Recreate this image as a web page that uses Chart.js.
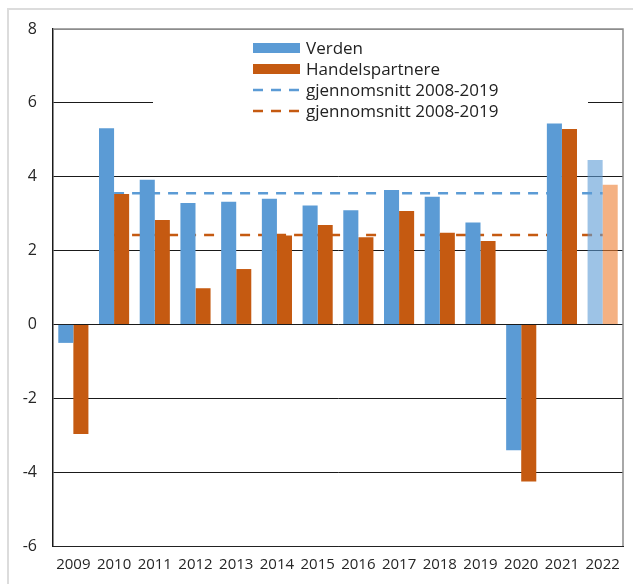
<!DOCTYPE html>
<html>
<head>
<meta charset="utf-8">
<script src="https://cdn.jsdelivr.net/npm/chart.js@4.4.1/dist/chart.umd.min.js"></script>
<style>
html, body { margin: 0; padding: 0; background: #fff; overflow: hidden; }
#wrap { position: relative; width: 633px; height: 584px; }
#frame { position: absolute; left: 7px; top: 8px; width: 700px; height: 700px; border: 2px solid #dcdcdc; pointer-events: none; }
</style>
</head>
<body>
<div id="wrap">
  <canvas id="chart" width="633" height="584"></canvas>
  <div id="frame"></div>
</div>
<script>
const years = ['2009', '2010', '2011', '2012', '2013', '2014', '2015', '2016', '2017', '2018', '2019', '2020', '2021', '2022'];
const verden = [-0.5, 5.31, 3.92, 3.29, 3.32, 3.40, 3.22, 3.09, 3.64, 3.46, 2.76, -3.41, 5.44, 4.45];
const handel = [-2.97, 3.53, 2.83, 0.98, 1.50, 2.41, 2.69, 2.36, 3.07, 2.48, 2.26, -4.25, 5.29, 3.78];
const avgVerden = 3.55;
const avgHandel = 2.42;
const yTicks = [-6, -4, -2, 0, 2, 4, 6, 8];

const BLUE = '#5B9BD5', ORANGE = '#C55A11';
const BLUE_LIGHT = 'rgba(91,155,213,0.6)', ORANGE_LIGHT = 'rgba(237,125,49,0.6)';
const FONT = '"Open Sans", "DejaVu Sans", sans-serif';

// last year is a forecast -> lighter bars
const colorsFor = (base, light) => years.map((y, i) => i === years.length - 1 ? light : base);
// average lines run from 2010 onward
const flatLine = v => years.map((y, i) => i === 0 ? null : v);

const legendItems = [
  { label: 'Verden', type: 'box', color: BLUE },
  { label: 'Handelspartnere', type: 'box', color: ORANGE },
  { label: 'gjennomsnitt 2008-2019', type: 'dash', color: BLUE },
  { label: 'gjennomsnitt 2008-2019', type: 'dash', color: ORANGE }
];

const boxLegend = {
  id: 'boxLegend',
  beforeDatasetsDraw(chart) {
    const { ctx, chartArea } = chart;
    const x0 = chartArea.left + 200, y0 = chartArea.top + 19;
    ctx.save();
    ctx.fillStyle = '#fff';
    ctx.fillRect(chartArea.left + 100, chartArea.top + 3, 435, 86);
    ctx.font = '17px ' + FONT;
    ctx.textBaseline = 'middle';
    legendItems.forEach((it, i) => {
      const y = y0 + i * 21;
      if (it.type === 'box') {
        ctx.fillStyle = it.color;
        ctx.fillRect(x0, y - 5, 47, 10);
      } else {
        ctx.strokeStyle = it.color;
        ctx.lineWidth = 2.5;
        ctx.setLineDash([10, 8]);
        ctx.beginPath();
        ctx.moveTo(x0, y);
        ctx.lineTo(x0 + 47, y);
        ctx.stroke();
        ctx.setLineDash([]);
      }
      ctx.fillStyle = '#222';
      ctx.fillText(it.label, x0 + 53, y + 1);
    });
    ctx.restore();
  },
  afterDraw(chart) {
    const { ctx, chartArea } = chart;
    ctx.save();
    ctx.strokeStyle = '#8c8c8c';
    ctx.lineWidth = 1.5;
    ctx.beginPath();
    ctx.moveTo(chartArea.left, chartArea.top);
    ctx.lineTo(chartArea.right, chartArea.top);
    ctx.lineTo(chartArea.right, chartArea.bottom);
    ctx.stroke();
    ctx.restore();
  }
};

new Chart(document.getElementById('chart'), {
  type: 'bar',
  data: {
    labels: years,
    datasets: [
      { label: 'Verden', data: verden, backgroundColor: colorsFor(BLUE, BLUE_LIGHT), order: 1,
        categoryPercentage: 0.74, barPercentage: 1.0 },
      { label: 'Handelspartnere', data: handel, backgroundColor: colorsFor(ORANGE, ORANGE_LIGHT), order: 1,
        categoryPercentage: 0.74, barPercentage: 1.0 },
      { type: 'line', label: 'gjennomsnitt 2008-2019', data: flatLine(avgVerden), borderColor: BLUE,
        borderWidth: 2.5, borderDash: [10, 8], pointRadius: 0, fill: false, order: 2 },
      { type: 'line', label: 'gjennomsnitt 2008-2019', data: flatLine(avgHandel), borderColor: ORANGE,
        borderWidth: 2.5, borderDash: [10, 8], pointRadius: 0, fill: false, order: 2 }
    ]
  },
  options: {
    responsive: false,
    animation: false,
    layout: { padding: { left: 8, right: 10, top: 29, bottom: 0 } },
    plugins: { legend: { display: false }, tooltip: { enabled: false } },
    scales: {
      x: {
        offset: true,
        grid: { display: false, drawTicks: false },
        border: { display: true, color: '#222', width: 1 },
        ticks: { color: '#262626', font: { family: FONT, size: 15 }, padding: 10, maxRotation: 0, autoSkip: false },
        afterFit: s => { s.height = 38; }
      },
      y: {
        min: -6, max: 8,
        afterBuildTicks: s => { s.ticks = yTicks.map(v => ({ value: v })); },
        grid: {
          drawTicks: false,
          color: c => c.tick && c.tick.value === 8 ? '#8c8c8c' : '#1a1a1a',
          lineWidth: 1
        },
        border: { display: true, color: '#1a1a1a', width: 1.5 },
        ticks: { color: '#262626', font: { family: FONT, size: 16 }, padding: 16 },
        afterFit: s => { s.width = 45; }
      }
    }
  },
  plugins: [boxLegend]
});
</script>
</body>
</html>
